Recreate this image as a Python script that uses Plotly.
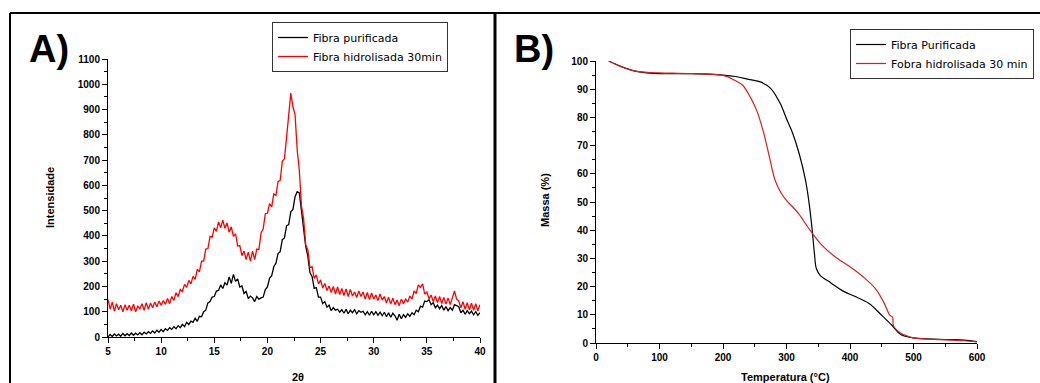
import numpy as np
import plotly.graph_objects as go

# ---------------- A) XRD patterns ----------------
# 2-theta grid: 5.0 .. 40.0 deg, step 0.2
two_theta = np.round(np.arange(5.0, 40.0001, 0.2), 1)

xrd_purificada = [
    0, 10, 2, 12, 4,
    11, 3, 14, 5, 13,
    6, 16, 7, 15, 8,
    17, 9, 19, 12, 21,
    14, 24, 16, 27, 19,
    30, 21, 33, 26, 37,
    30, 41, 33, 45, 37,
    50, 41, 58, 49, 63,
    58, 74, 62, 82, 80,
    100, 106, 135, 140, 158,
    160, 182, 184, 206, 192,
    215, 205, 238, 212, 248,
    220, 230, 198, 202, 172,
    180, 152, 162, 155, 140,
    160, 150, 155, 158, 188,
    198, 232, 243, 278, 292,
    330, 338, 385, 392, 440,
    445, 495, 505, 555, 575,
    570, 500, 440, 360, 320,
    255, 240, 192, 195, 158,
    158, 132, 140, 118, 126,
    104, 116, 106, 110, 98,
    108, 94, 110, 92, 106,
    96, 108, 92, 104, 98,
    102, 88, 100, 86, 102,
    88, 100, 86, 98, 84,
    98, 80, 96, 78, 94,
    84, 66, 90, 72, 88,
    78, 92, 82, 96, 88,
    106, 100, 122, 118, 142,
    140, 148, 128, 136, 116,
    126, 112, 124, 106, 120,
    104, 116, 106, 128, 124,
    120, 96, 106, 90, 104,
    92, 102, 88, 100, 86,
    96,
]

xrd_hidrolisada = [
    148, 110, 138, 102, 132,
    108, 126, 100, 128, 106,
    126, 104, 130, 100, 122,
    112, 132, 106, 136, 110,
    134, 116, 138, 120, 142,
    126, 144, 130, 152, 132,
    160, 145, 175, 160, 188,
    180, 208, 196, 224, 210,
    240, 228, 268, 258, 300,
    300, 348, 350, 398, 395,
    432, 418, 455, 432, 462,
    430, 452, 414, 436, 398,
    408, 360, 362, 322, 340,
    306, 336, 300, 340, 306,
    348, 346, 412, 428, 488,
    490, 528, 515, 566, 560,
    615, 620, 695, 705, 790,
    870, 965, 910, 880, 740,
    660, 520, 470, 365, 345,
    275, 278, 232, 246, 210,
    226, 194, 212, 184, 202,
    176, 200, 170, 198, 168,
    192, 164, 190, 160, 188,
    162, 178, 156, 182, 160,
    178, 150, 176, 148, 174,
    150, 166, 144, 170, 146,
    160, 134, 158, 130, 154,
    128, 146, 124, 150, 132,
    150, 138, 162, 150, 182,
    172, 206, 196, 210, 170,
    178, 152, 166, 140, 162,
    136, 160, 132, 156, 130,
    154, 128, 160, 182, 150,
    142, 116, 140, 110, 136,
    108, 134, 106, 132, 104,
    128,
]

# ---------------- B) TGA curves ----------------
temp_purificada = [20, 40, 60, 80, 100, 150, 200, 220, 240, 260, 275, 290, 300,
                   310, 320, 330, 335, 340, 344, 347, 353, 370, 390, 410, 430,
                   450, 466, 480, 500, 520, 540, 560, 580, 600]
massa_purificada = [100, 98, 96.5, 95.8, 95.5, 95.5, 95, 94.5, 93.5, 92.5, 90.3,
                    85, 79.5, 74.2, 67.1, 57.7, 50.6, 41.1, 31.7, 26.4, 24, 21.3,
                    18.3, 16.3, 14, 9.8, 6.3, 3, 1.8, 1.5, 1.3, 1.2, 1.0, 0.5]

temp_hidrolisada = [20, 40, 60, 80, 100, 150, 200, 219, 231, 243, 253, 263, 272,
                    282, 292, 300, 319, 337, 356, 377, 400, 421, 440, 453, 463,
                    467, 468, 470, 480, 490, 500, 520, 540, 560, 580, 600]
massa_hidrolisada = [100, 98, 96.5, 96, 95.8, 95.5, 94.9, 93.1, 91.4, 87.2, 82.5,
                     75.4, 67.1, 57.7, 53, 50.6, 45.9, 40, 34.6, 30.5, 27, 23.4,
                     19.3, 14.5, 9.8, 9.2, 6.5, 5.5, 3.5, 2.5, 1.8, 1.4, 1.2, 1.0,
                     0.8, 0.4]

W, H = 1040, 383


def px(x):
    return x / W


def py(y):
    return 1 - y / H


NARROW = "Liberation Sans Narrow, Arial Narrow, Liberation Sans"
TICK_FONT = dict(family=NARROW, size=10, color="black", weight="bold")
TITLE_FONT = dict(family=NARROW, size=11, color="black", weight="bold")
LEGEND_FONT = dict(family="DejaVu Sans, Liberation Sans", size=11, color="black")

fig = go.Figure()

fig.add_trace(go.Scatter(x=two_theta, y=xrd_purificada, mode="lines",
                         name="Fibra purificada", line=dict(color="black", width=1.3),
                         xaxis="x", yaxis="y", legend="legend"))
fig.add_trace(go.Scatter(x=two_theta, y=xrd_hidrolisada, mode="lines",
                         name="Fibra hidrolisada 30min", line=dict(color="#ff0000", width=1.3),
                         xaxis="x", yaxis="y", legend="legend"))
fig.add_trace(go.Scatter(x=temp_purificada, y=massa_purificada, mode="lines",
                         name="Fibra Purificada", line=dict(color="black", width=1.2),
                         line_shape="spline", xaxis="x2", yaxis="y2", legend="legend2"))
fig.add_trace(go.Scatter(x=temp_hidrolisada, y=massa_hidrolisada, mode="lines",
                         name="Fobra hidrolisada 30 min", line=dict(color="#d42020", width=1.2),
                         line_shape="spline", xaxis="x2", yaxis="y2", legend="legend2"))

axis_common = dict(showline=True, linecolor="black", linewidth=1, ticks="outside",
                   ticklen=5, tickcolor="black", tickwidth=1, showgrid=False,
                   zeroline=False, tickfont=TICK_FONT, mirror=False, automargin=False)

fig.update_layout(
    width=W, height=H,
    margin=dict(l=0, r=0, t=0, b=0),
    paper_bgcolor="white", plot_bgcolor="white",
    xaxis=dict(domain=[px(108), px(480)], anchor="y", range=[5, 40], dtick=5,
               minor=dict(dtick=2.5, ticks="outside", ticklen=3, tickcolor="black"),
               **axis_common),
    yaxis=dict(domain=[py(337), py(59)], anchor="x", range=[0, 1100], dtick=100,
               minor=dict(dtick=50, ticks="outside", ticklen=3, tickcolor="black"),
               **axis_common),
    xaxis2=dict(domain=[px(596), px(977)], anchor="y2", range=[0, 600], dtick=100,
                minor=dict(dtick=50, ticks="outside", ticklen=3, tickcolor="black"),
                **axis_common),
    yaxis2=dict(domain=[py(343), py(61)], anchor="x2", range=[0, 100], dtick=10,
                minor=dict(dtick=5, ticks="outside", ticklen=3, tickcolor="black"),
                **axis_common),
    legend=dict(x=px(272), y=py(22), xanchor="left", yanchor="top",
                bordercolor="#333333", borderwidth=1, bgcolor="white",
                font=LEGEND_FONT, itemwidth=30, tracegroupgap=0),
    legend2=dict(x=px(850), y=py(29), xanchor="left", yanchor="top",
                 bordercolor="#333333", borderwidth=1, bgcolor="white",
                 font=LEGEND_FONT, itemwidth=30, tracegroupgap=0),
    showlegend=True,
)

# Axis titles
axis_titles = [
    ("Intensidade", 50, 198, -90),
    ("2θ", 298, 377, 0),
    ("Massa (%)", 545, 200, -90),
    ("Temperatura (°C)", 785, 377, 0),
]
for text, tx, ty, ang in axis_titles:
    fig.add_annotation(text=text, xref="paper", yref="paper", x=px(tx), y=py(ty),
                       xanchor="center", yanchor="middle", showarrow=False,
                       textangle=ang, font=TITLE_FONT)

# Panel frame
fig.add_shape(type="line", xref="paper", yref="paper", x0=px(10), x1=1, y0=py(13), y1=py(13),
              line=dict(color="black", width=2))
fig.add_shape(type="line", xref="paper", yref="paper", x0=px(10), x1=px(10), y0=py(13), y1=0,
              line=dict(color="black", width=2))
fig.add_shape(type="line", xref="paper", yref="paper", x0=px(495), x1=px(495), y0=py(13), y1=0,
              line=dict(color="black", width=3))

# Panel letters
for label, xpos in (("A)", 27), ("B)", 512)):
    fig.add_annotation(text=label, xref="paper", yref="paper", x=px(xpos), y=py(49),
                       xanchor="left", yanchor="middle", showarrow=False,
                       font=dict(family="Liberation Sans, Arial", size=38, color="black",
                                 weight="bold"))

fig.write_html("out.html")
